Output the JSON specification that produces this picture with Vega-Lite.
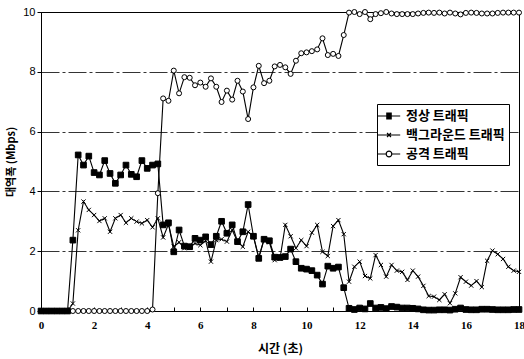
{
  "$schema": "https://vega.github.io/schema/vega-lite/v6.json",
  "width": 478,
  "height": 299,
  "autosize": {"type": "none"},
  "padding": {"left": 41, "top": 12, "right": 5, "bottom": 48},
  "background": "white",
  "config": {
    "view": {"stroke": "black", "strokeWidth": 1},
    "font": "Noto Sans CJK KR",
    "legend": {
      "orient": "none", "legendX": 336, "legendY": 92, "title": null,
      "padding": 4, "strokeColor": "black", "fillColor": "white",
      "labelFont": "Noto Sans CJK KR", "labelFontSize": 13, "labelFontWeight": "bold", "labelColor": "black",
      "symbolSize": 196, "symbolOpacity": 1, "symbolStrokeColor": "black", "symbolStrokeWidth": 1.2,
      "rowPadding": 4, "labelOffset": 9
    }
  },
  "data": {"values": [
    {"t":0,"정상 트래픽":0,"백그라운드 트래픽":0,"공격 트래픽":0},
    {"t":0.2,"정상 트래픽":0,"백그라운드 트래픽":0,"공격 트래픽":0},
    {"t":0.4,"정상 트래픽":0,"백그라운드 트래픽":0,"공격 트래픽":0},
    {"t":0.6,"정상 트래픽":0,"백그라운드 트래픽":0,"공격 트래픽":0},
    {"t":0.8,"정상 트래픽":0,"백그라운드 트래픽":0,"공격 트래픽":0},
    {"t":1.0,"정상 트래픽":0,"백그라운드 트래픽":0,"공격 트래픽":0},
    {"t":1.2,"정상 트래픽":2.37,"백그라운드 트래픽":0.25,"공격 트래픽":0},
    {"t":1.4,"정상 트래픽":5.22,"백그라운드 트래픽":2.7,"공격 트래픽":0},
    {"t":1.6,"정상 트래픽":4.88,"백그라운드 트래픽":3.66,"공격 트래픽":0},
    {"t":1.8,"정상 트래픽":5.18,"백그라운드 트래픽":3.38,"공격 트래픽":0},
    {"t":2.0,"정상 트래픽":4.63,"백그라운드 트래픽":3.21,"공격 트래픽":0},
    {"t":2.2,"정상 트래픽":4.55,"백그라운드 트래픽":3.01,"공격 트래픽":0},
    {"t":2.4,"정상 트래픽":5.03,"백그라운드 트래픽":3.1,"공격 트래픽":0},
    {"t":2.6,"정상 트래픽":4.6,"백그라운드 트래픽":2.65,"공격 트래픽":0},
    {"t":2.8,"정상 트래픽":4.27,"백그라운드 트래픽":3.1,"공격 트래픽":0},
    {"t":3.0,"정상 트래픽":4.55,"백그라운드 트래픽":3.21,"공격 트래픽":0},
    {"t":3.2,"정상 트래픽":4.88,"백그라운드 트래픽":2.95,"공격 트래픽":0},
    {"t":3.4,"정상 트래픽":4.57,"백그라운드 트래픽":3.1,"공격 트래픽":0},
    {"t":3.6,"정상 트래픽":4.49,"백그라운드 트래픽":2.99,"공격 트래픽":0},
    {"t":3.8,"정상 트래픽":5.03,"백그라운드 트래픽":2.93,"공격 트래픽":0},
    {"t":4.0,"정상 트래픽":4.77,"백그라운드 트래픽":3.04,"공격 트래픽":0},
    {"t":4.2,"정상 트래픽":4.88,"백그라운드 트래픽":2.8,"공격 트래픽":0.05},
    {"t":4.4,"정상 트래픽":4.92,"백그라운드 트래픽":3.1,"공격 트래픽":3.94},
    {"t":4.6,"정상 트래픽":2.88,"백그라운드 트래픽":2.46,"공격 트래픽":7.11},
    {"t":4.8,"정상 트래픽":2.95,"백그라운드 트래픽":2.9,"공격 트래픽":7.03},
    {"t":5.0,"정상 트래픽":1.98,"백그라운드 트래픽":2.15,"공격 트래픽":8.04},
    {"t":5.2,"정상 트래픽":2.71,"백그라운드 트래픽":2.3,"공격 트래픽":7.28},
    {"t":5.4,"정상 트래픽":2.17,"백그라운드 트래픽":2.1,"공격 트래픽":7.82},
    {"t":5.6,"정상 트래픽":2.15,"백그라운드 트래픽":2.13,"공격 트래픽":7.8},
    {"t":5.8,"정상 트래픽":2.43,"백그라운드 트래픽":2.26,"공격 트래픽":7.55},
    {"t":6.0,"정상 트래픽":2.37,"백그라운드 트래픽":2.2,"공격 트래픽":7.64},
    {"t":6.2,"정상 트래픽":2.48,"백그라운드 트래픽":2.35,"공격 트래픽":7.5},
    {"t":6.4,"정상 트래픽":2.22,"백그라운드 트래픽":1.65,"공격 트래픽":7.78},
    {"t":6.6,"정상 트래픽":2.5,"백그라운드 트래픽":2.37,"공격 트래픽":7.5},
    {"t":6.8,"정상 트래픽":3.0,"백그라운드 트래픽":2.4,"공격 트래픽":6.99},
    {"t":7.0,"정상 트래픽":2.6,"백그라운드 트래픽":2.32,"공격 트래픽":7.37},
    {"t":7.2,"정상 트래픽":2.88,"백그라운드 트래픽":2.71,"공격 트래픽":7.07},
    {"t":7.4,"정상 트래픽":2.32,"백그라운드 트래픽":2.32,"공격 트래픽":7.7},
    {"t":7.6,"정상 트래픽":2.65,"백그라운드 트래픽":2.15,"공격 트래픽":7.34},
    {"t":7.8,"정상 트래픽":3.56,"백그라운드 트래픽":2.65,"공격 트래픽":6.42},
    {"t":8.0,"정상 트래픽":2.5,"백그라운드 트래픽":2.5,"공격 트래픽":7.48},
    {"t":8.2,"정상 트래픽":1.76,"백그라운드 트래픽":1.8,"공격 트래픽":8.2},
    {"t":8.4,"정상 트래픽":2.4,"백그라운드 트래픽":2.4,"공격 트래픽":7.62},
    {"t":8.6,"정상 트래픽":2.35,"백그라운드 트래픽":2.3,"공격 트래픽":7.7},
    {"t":8.8,"정상 트래픽":1.8,"백그라운드 트래픽":1.7,"공격 트래픽":8.18},
    {"t":9.0,"정상 트래픽":1.79,"백그라운드 트래픽":1.75,"공격 트래픽":8.23},
    {"t":9.2,"정상 트래픽":1.82,"백그라운드 트래픽":2.88,"공격 트래픽":8.15},
    {"t":9.4,"정상 트래픽":2.07,"백그라운드 트래픽":2.5,"공격 트래픽":7.93},
    {"t":9.6,"정상 트래픽":1.65,"백그라운드 트래픽":2.1,"공격 트래픽":8.37},
    {"t":9.8,"정상 트래픽":1.43,"백그라운드 트래픽":2.37,"공격 트래픽":8.62},
    {"t":10.0,"정상 트래픽":1.4,"백그라운드 트래픽":2.17,"공격 트래픽":8.65},
    {"t":10.2,"정상 트래픽":1.35,"백그라운드 트래픽":2.62,"공격 트래픽":8.69},
    {"t":10.4,"정상 트래픽":1.2,"백그라운드 트래픽":2.88,"공격 트래픽":8.75},
    {"t":10.6,"정상 트래픽":0.9,"백그라운드 트래픽":1.98,"공격 트래픽":9.12},
    {"t":10.8,"정상 트래픽":1.5,"백그라운드 트래픽":1.84,"공격 트래픽":8.56},
    {"t":11.0,"정상 트래픽":1.43,"백그라운드 트래픽":2.84,"공격 트래픽":8.6},
    {"t":11.2,"정상 트래픽":1.47,"백그라운드 트래픽":3.04,"공격 트래픽":8.53},
    {"t":11.4,"정상 트래픽":0.78,"백그라운드 트래픽":2.57,"공격 트래픽":9.23},
    {"t":11.6,"정상 트래픽":0.09,"백그라운드 트래픽":0.98,"공격 트래픽":9.98},
    {"t":11.8,"정상 트래픽":0.05,"백그라운드 트래픽":1.48,"공격 트래픽":10.0},
    {"t":12.0,"정상 트래픽":0.1,"백그라운드 트래픽":1.65,"공격 트래픽":9.93},
    {"t":12.2,"정상 트래픽":0.07,"백그라운드 트래픽":1.17,"공격 트래픽":10.0},
    {"t":12.4,"정상 트래픽":0.25,"백그라운드 트래픽":1.09,"공격 트래픽":9.76},
    {"t":12.6,"정상 트래픽":0.1,"백그라운드 트래픽":1.87,"공격 트래픽":9.93},
    {"t":12.8,"정상 트래픽":0.12,"백그라운드 트래픽":1.54,"공격 트래픽":9.96},
    {"t":13.0,"정상 트래픽":0.08,"백그라운드 트래픽":1.15,"공격 트래픽":10.0},
    {"t":13.2,"정상 트래픽":0.15,"백그라운드 트래픽":1.54,"공격 트래픽":9.95},
    {"t":13.4,"정상 트래픽":0.13,"백그라운드 트래픽":1.35,"공격 트래픽":9.93},
    {"t":13.6,"정상 트래픽":0.1,"백그라운드 트래픽":1.31,"공격 트래픽":9.93},
    {"t":13.8,"정상 트래픽":0.1,"백그라운드 트래픽":1.04,"공격 트래픽":9.93},
    {"t":14.0,"정상 트래픽":0.09,"백그라운드 트래픽":1.35,"공격 트래픽":9.93},
    {"t":14.2,"정상 트래픽":0.07,"백그라운드 트래픽":1.15,"공격 트래픽":9.95},
    {"t":14.4,"정상 트래픽":0.04,"백그라운드 트래픽":0.84,"공격 트래픽":9.97},
    {"t":14.6,"정상 트래픽":0.03,"백그라운드 트래픽":0.5,"공격 트래픽":9.98},
    {"t":14.8,"정상 트래픽":0.03,"백그라운드 트래픽":0.48,"공격 트래픽":9.97},
    {"t":15.0,"정상 트래픽":0.04,"백그라운드 트래픽":0.37,"공격 트래픽":9.98},
    {"t":15.2,"정상 트래픽":0.04,"백그라운드 트래픽":0.56,"공격 트래픽":9.95},
    {"t":15.4,"정상 트래픽":0.03,"백그라운드 트래픽":0.26,"공격 트래픽":9.98},
    {"t":15.6,"정상 트래픽":0.06,"백그라운드 트래픽":0.59,"공격 트래픽":9.95},
    {"t":15.8,"정상 트래픽":0.1,"백그라운드 트래픽":1.13,"공격 트래픽":9.92},
    {"t":16.0,"정상 트래픽":0.05,"백그라운드 트래픽":0.98,"공격 트래픽":9.97},
    {"t":16.2,"정상 트래픽":0.04,"백그라운드 트래픽":0.85,"공격 트래픽":9.98},
    {"t":16.4,"정상 트래픽":0.04,"백그라운드 트래픽":1.0,"공격 트래픽":9.97},
    {"t":16.6,"정상 트래픽":0.06,"백그라운드 트래픽":0.8,"공격 트래픽":9.95},
    {"t":16.8,"정상 트래픽":0.06,"백그라운드 트래픽":1.68,"공격 트래픽":9.95},
    {"t":17.0,"정상 트래픽":0.05,"백그라운드 트래픽":2.02,"공격 트래픽":9.95},
    {"t":17.2,"정상 트래픽":0.04,"백그라운드 트래픽":1.9,"공격 트래픽":9.97},
    {"t":17.4,"정상 트래픽":0.04,"백그라운드 트래픽":1.74,"공격 트래픽":9.98},
    {"t":17.6,"정상 트래픽":0.04,"백그라운드 트래픽":1.48,"공격 트래픽":9.98},
    {"t":17.8,"정상 트래픽":0.05,"백그라운드 트래픽":1.35,"공격 트래픽":9.98},
    {"t":18.0,"정상 트래픽":0.05,"백그라운드 트래픽":1.31,"공격 트래픽":9.98}
  ]},
  "transform": [{"fold": ["공격 트래픽", "백그라운드 트래픽", "정상 트래픽"], "as": ["series", "v"]}],
  "encoding": {
    "x": {
      "field": "t", "type": "quantitative",
      "scale": {"domain": [0, 18], "nice": false, "zero": false},
      "axis": {
        "title": "시간 (초)", "titleFont": "Noto Sans CJK KR", "titleFontSize": 12, "titleFontWeight": "bold", "titleColor": "black", "titlePadding": 13,
        "values": [0,1,2,3,4,5,6,7,8,9,10,11,12,13,14,15,16,17,18],
        "labelExpr": "datum.value % 2 === 0 ? datum.label : ''",
        "labelOverlap": false, "labelFlush": false,
        "labelFont": "Liberation Serif", "labelFontSize": 11, "labelFontWeight": "bold", "labelColor": "black", "labelPadding": 12,
        "tickSize": -4, "tickColor": "black", "domainColor": "black", "grid": false
      }
    },
    "y": {
      "field": "v", "type": "quantitative",
      "scale": {"domain": [0, 10], "nice": false},
      "axis": {
        "title": "대역폭 (Mbps)", "titleFont": "Noto Sans CJK KR", "titleFontSize": 11, "titleFontWeight": "bold", "titleColor": "black", "titlePadding": 6,
        "values": [0, 2, 4, 6, 8, 10],
        "grid": true, "gridColor": "black", "gridDash": [18, 3, 3, 3], "gridWidth": 0.8, "gridOpacity": 1,
        "tickSize": 4, "tickColor": "black", "domainColor": "black",
        "labelFont": "Liberation Sans", "labelFontSize": 11, "labelColor": "black", "labelPadding": 2
      }
    }
  },
  "layer": [
    {
      "mark": {"type": "line", "color": "black", "strokeWidth": 1.1},
      "encoding": {"detail": {"field": "series"}}
    },
    {
      "mark": {"type": "point", "filled": true, "stroke": "black", "strokeWidth": 1, "opacity": 1},
      "encoding": {
        "order": {"field": "series", "sort": "ascending"},
        "shape": {
          "field": "series", "type": "nominal",
          "scale": {"domain": ["백그라운드 트래픽", "정상 트래픽", "공격 트래픽"], "range": ["M-1,-1L1,1M-1,1L1,-1", "square", "circle"]},
          "legend": null
        },
        "fill": {
          "field": "series", "type": "nominal",
          "scale": {"domain": ["공격 트래픽", "정상 트래픽", "백그라운드 트래픽"], "range": ["white", "black", "black"]},
          "legend": null
        },
        "size": {
          "field": "series", "type": "nominal",
          "scale": {"domain": ["백그라운드 트래픽", "공격 트래픽", "정상 트래픽"], "range": [18, 32, 42]},
          "legend": null
        }
      }
    },
    {
      "mark": {"type": "point", "filled": false, "color": "black", "opacity": 0},
      "encoding": {
        "shape": {
          "field": "series", "type": "nominal",
          "scale": {
            "domain": ["정상 트래픽", "백그라운드 트래픽", "공격 트래픽"],
            "range": [
              "M-1.6,0H1.6M-0.4,-0.4H0.4M-0.4,-0.27H0.4M-0.4,-0.13H0.4M-0.4,0.13H0.4M-0.4,0.27H0.4M-0.4,0.4H0.4",
              "M-1.6,0H1.6M-0.28,-0.28L0.28,0.28M-0.28,0.28L0.28,-0.28",
              "M-1.6,0H-0.4M0.4,0H1.6M0.4,0A0.4,0.4 0 1,1 -0.4,0A0.4,0.4 0 1,1 0.4,0"
            ]
          }
        }
      }
    }
  ],
  "resolve": {"scale": {"shape": "independent", "fill": "independent", "size": "independent"}}
}
